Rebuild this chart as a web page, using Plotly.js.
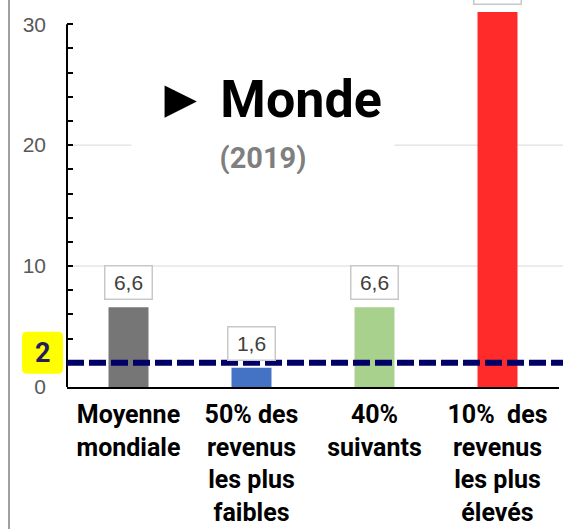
<!DOCTYPE html>
<html>
<head>
<meta charset="utf-8">
<script src="https://cdn.plot.ly/plotly-3.0.1.min.js"></script>
<style>html,body{margin:0;padding:0;background:#fff;}#chart{width:563px;height:529px;}</style>
</head>
<body>
<div id="chart"></div>
<script>
// ---- data ----
const categories = ['Moyenne<br>mondiale', '50% des<br>revenus<br>les plus<br>faibles', '40%<br>suivants', '10%\u00a0 des<br>revenus<br>les plus<br>élevés'];
const values = [6.6, 1.6, 6.6, 31];
const threshold = 2;
const yTickVals = [0, 10, 20, 30];
const yTickText = ['0', '10', '20', '30'];
const gridVals = [10, 20];
const titleMain = 'Monde';
const titleMarker = '\u25BA';
const titleSub = '(2019)';

// ---- styles ----
const barColors = ['#767676', '#4472C4', '#A9D18E', '#FF2B2B'];
const fmt = v => String(v).replace('.', ',');

const minorVals = [];
for (let v = 2; v < 30; v += 2) if (v % 10 !== 0) minorVals.push(v);

const trace = {
  type: 'bar',
  x: categories,
  y: values,
  marker: {color: barColors, line: {width: 0}},
  hoverinfo: 'none'
};

const annotations = [];
values.forEach((v, i) => {
  annotations.push({
    x: categories[i], y: v, xref: 'x', yref: 'y',
    text: fmt(v), showarrow: false,
    yanchor: 'bottom', yshift: 7,
    width: 44, height: 30, borderpad: 1,
    bordercolor: '#c8c8c8', borderwidth: 1.5, bgcolor: '#ffffff',
    font: {family: 'Liberation Sans, Arial, sans-serif', size: 21, color: '#404040'}
  });
});
annotations.push({
  xref: 'paper', yref: 'y', x: 0, y: threshold, xshift: -24, yshift: 10,
  xanchor: 'center', yanchor: 'middle',
  text: '<b>' + threshold + '</b>', showarrow: false,
  font: {family: 'Roboto, Arial, sans-serif', size: 27, color: '#241c5c'}
});
annotations.push({
  xref: 'paper', yref: 'paper', x: (268 - 67) / 492, y: (387 - 99) / 387,
  xanchor: 'center', yanchor: 'middle',
  text: '<span style="font-family:Liberation Sans;font-size:54px">' + titleMarker + '</span> <b>' + titleMain + '</b>', showarrow: false,
  font: {family: 'Roboto, DejaVu Sans, sans-serif', size: 52, color: '#000000'}
});
annotations.push({
  xref: 'paper', yref: 'paper', x: (263 - 67) / 492, y: (387 - 158) / 387,
  xanchor: 'center', yanchor: 'middle',
  text: '<b>' + titleSub + '</b>', showarrow: false,
  width: 260, height: 32, bgcolor: '#ffffff',
  font: {family: 'Roboto, Arial, sans-serif', size: 29, color: '#7f7f7f'}
});

const shapes = [];
gridVals.forEach(g => shapes.push({
  type: 'line', xref: 'paper', yref: 'y', x0: 0, x1: 1.01, y0: g, y1: g,
  line: {color: '#d9d9d9', width: 1}, layer: 'below'
}));
// y axis line (0 to 30)
shapes.push({
  type: 'line', xref: 'paper', yref: 'y', x0: 0, x1: 0, y0: 0, y1: yTickVals[yTickVals.length - 1],
  line: {color: '#000000', width: 2}
});
// threshold dashed line
shapes.push({
  type: 'line', xref: 'paper', yref: 'y', x0: 0, x1: 1.01, y0: threshold, y1: threshold,
  line: {color: '#000066', width: 6, dash: '17px,5px'}
});
// yellow rounded box behind "2"
shapes.push({
  type: 'path', xref: 'paper', yref: 'y', xsizemode: 'pixel', ysizemode: 'pixel',
  xanchor: 0, yanchor: threshold,
  path: 'M -40 -11 L -9 -11 Q -4 -11 -4 -6 L -4 26 Q -4 31 -9 31 L -40 31 Q -45 31 -45 26 L -45 -6 Q -45 -11 -40 -11 Z',
  fillcolor: '#FFFF00', line: {width: 0}, layer: 'above'
});
// left frame line
shapes.push({
  type: 'line', xref: 'paper', yref: 'paper', x0: -58 / 492, x1: -58 / 492, y0: -0.4, y1: 1.05,
  line: {color: '#a0a0a0', width: 2}
});

const layout = {
  width: 563, height: 529,
  margin: {l: 67, r: 4, t: 0, b: 142, pad: 0},
  paper_bgcolor: '#ffffff', plot_bgcolor: '#ffffff',
  showlegend: false,
  bargap: 0.675,
  separators: ',.',
  xaxis: {
    type: 'category',
    showline: true, linecolor: '#000000', linewidth: 2,
    ticks: '', showgrid: false, zeroline: false,
    tickvals: categories,
    ticktext: categories.map(c => '<b>' + c.split('<br>').join('</b><br><b>') + '</b>'),
    tickfont: {family: 'Roboto, Arial, sans-serif', size: 25, color: '#000000'},
    ticklabelstandoff: 4,
    fixedrange: true
  },
  yaxis: {
    range: [0, 32],
    showline: false, zeroline: false, showgrid: false,
    tickmode: 'array', tickvals: yTickVals, ticktext: yTickText,
    ticks: 'inside', ticklen: 6, tickwidth: 2, tickcolor: '#000000',
    minor: {tickmode: 'array', tickvals: minorVals, ticks: 'inside', ticklen: 6, tickwidth: 2, tickcolor: '#000000', showgrid: false},
    tickfont: {family: 'Liberation Sans, Arial, sans-serif', size: 21, color: '#595959'},
    ticklabelstandoff: 20,
    fixedrange: true
  },
  annotations: annotations,
  shapes: shapes
};

Plotly.newPlot('chart', [trace], layout, {displayModeBar: false, staticPlot: true});
</script>
</body>
</html>
